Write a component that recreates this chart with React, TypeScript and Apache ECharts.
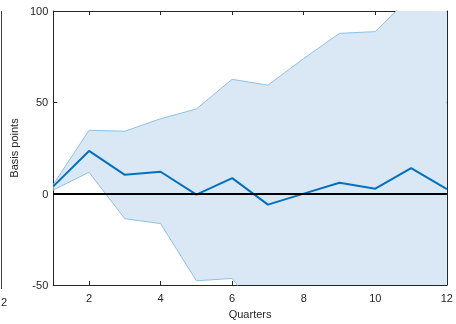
import React, { useEffect, useRef } from "react";
import * as echarts from "echarts";

const quarters = [1, 2, 3, 4, 5, 6, 7, 8, 9, 10, 11, 12];
const response = [4, 23.4, 10.3, 12, -0.5, 8.5, -6, 0, 6, 2.7, 14, 2.5];
const upperBand = [5, 34.7, 34.2, 41, 46.4, 62.6, 59.4, 74, 87.8, 88.7, 108, 115];
const lowerBand = [2, 11.7, -13.7, -16.4, -47.7, -46.4, -72, -80, -88, -92, -98, -104];
const xTickValues = [2, 4, 6, 8, 10, 12];
const yAxisName = "Basis points";
const xAxisName = "Quarters";
const neighbourTickLabel = "2";

const FONT = "Liberation Sans, Arial, Helvetica, sans-serif";
const AXIS = "#262626";
const EDGE = "#8dc1e8";
const FILL = "#d9e8f4";

export default function App() {
  const ref = useRef<HTMLDivElement>(null);
  useEffect(() => {
    if (!ref.current) return;
    const chart = echarts.init(ref.current, undefined, { renderer: "svg" });
    const bandData = quarters.map((q, i) => [q, lowerBand[i], upperBand[i]]);
    const lowerData = quarters.map((q, i) => [q, lowerBand[i]]);
    const upperData = quarters.map((q, i) => [q, upperBand[i]]);
    const lineData = quarters.map((q, i) => [q, response[i]]);
    const axisLine = { show: true, onZero: false, lineStyle: { color: AXIS, width: 1 } };
    chart.setOption({
      animation: false,
      grid: { left: 52.5, right: 7, top: 11, bottom: 35, containLabel: false },
      xAxis: [
        {
          type: "value",
          min: 1,
          max: 12,
          position: "bottom",
          name: xAxisName,
          nameLocation: "middle",
          nameGap: 23,
          nameTextStyle: { fontFamily: FONT, fontSize: 11, color: AXIS },
          axisLine,
          axisTick: { show: true, inside: true, length: 4, customValues: xTickValues, lineStyle: { color: AXIS } },
          axisLabel: { show: true, customValues: xTickValues, fontFamily: FONT, fontSize: 11, color: AXIS, margin: 7 },
          splitLine: { show: false },
        },
        {
          type: "value",
          min: 1,
          max: 12,
          position: "top",
          axisLine,
          axisTick: { show: true, inside: true, length: 4, customValues: xTickValues, lineStyle: { color: AXIS } },
          axisLabel: { show: false },
          splitLine: { show: false },
        },
      ],
      yAxis: [
        {
          type: "value",
          min: -50,
          max: 100,
          interval: 50,
          position: "left",
          name: yAxisName,
          nameLocation: "middle",
          nameGap: 31,
          nameRotate: 90,
          nameTextStyle: { fontFamily: FONT, fontSize: 11, color: AXIS },
          axisLine,
          axisTick: { show: true, inside: true, length: 4, lineStyle: { color: AXIS } },
          axisLabel: { fontFamily: FONT, fontSize: 11, color: AXIS, margin: 5 },
          splitLine: { show: false },
        },
        {
          type: "value",
          min: -50,
          max: 100,
          interval: 50,
          position: "right",
          axisLine,
          axisTick: { show: true, inside: true, length: 4, lineStyle: { color: AXIS } },
          axisLabel: { show: false },
          splitLine: { show: false },
        },
      ],
      graphic: [
        {
          type: "line",
          shape: { x1: 1.5, y1: 11, x2: 1.5, y2: 289 },
          style: { stroke: "#404040", lineWidth: 1 },
          silent: true,
        },
        {
          type: "text",
          x: 1,
          y: 302,
          style: { text: neighbourTickLabel, font: "11px " + FONT, fill: AXIS, textAlign: "left", textVerticalAlign: "middle" },
          silent: true,
        },
      ],
      series: [
        {
          type: "custom",
          data: bandData,
          clip: true,
          z: 1,
          silent: true,
          renderItem: (params: any, api: any) => {
            if (params.dataIndex !== 0) return null;
            const top = quarters.map((q, i) => api.coord([q, upperBand[i]]));
            const bottom = quarters.map((q, i) => api.coord([q, lowerBand[i]])).reverse();
            const cs = params.coordSys;
            return {
              type: "polygon",
              shape: { points: top.concat(bottom) },
              style: { fill: FILL, stroke: "none" },
              clipPath: { type: "rect", shape: { x: cs.x, y: cs.y, width: cs.width, height: cs.height } },
            };
          },
        },
        {
          type: "line",
          data: lowerData,
          symbol: "none",
          lineStyle: { color: EDGE, width: 1 },
          z: 2,
          silent: true,
        },
        {
          type: "line",
          data: upperData,
          symbol: "none",
          lineStyle: { color: EDGE, width: 1 },
          z: 2,
          silent: true,
          markLine: {
            silent: true,
            symbol: "none",
            label: { show: false },
            lineStyle: { color: "#000000", width: 2, type: "solid" },
            data: [{ yAxis: 0 }],
          },
        },
        {
          type: "line",
          data: lineData,
          symbol: "none",
          lineStyle: { color: "#0072BD", width: 2 },
          z: 3,
        },
      ],
    });
    return () => chart.dispose();
  }, []);
  return <div ref={ref} style={{ position: "fixed", left: 0, top: 0, width: 456, height: 324 }} />;
}
